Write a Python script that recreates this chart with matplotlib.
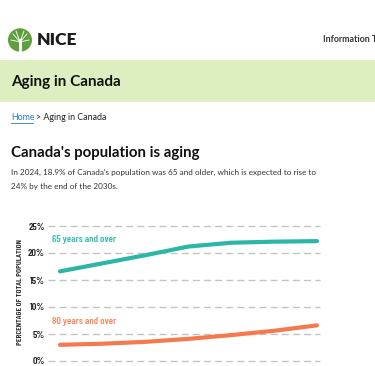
"""Aging in Canada - NICE web page chart."""

import matplotlib
matplotlib.use('Agg')
import matplotlib.pyplot as plt
from matplotlib.patches import Circle, Rectangle

# data
years = [2016, 2021, 2026, 2031, 2036, 2041, 2046]
pct_65_plus = [16.6, 18.1, 19.6, 21.2, 21.9, 22.1, 22.2]
pct_80_plus = [3.0, 3.2, 3.55, 4.1, 4.8, 5.6, 6.6]
y_ticks = [0, 5, 10, 15, 20, 25]
series_labels = ['65 years and over', '80 years and over']

W, H = 375, 366
TEAL = '#2cb6a8'
ORANGE = '#f47a4e'
COND = ['Barlow Condensed', 'DejaVu Sans']
PAGE = ['Lato', 'DejaVu Sans']


def fx(x):
    return x / W


def fy(y):
    return 1 - y / H


fig = plt.figure(figsize=(W / 100, H / 100), dpi=100)
fig.patch.set_facecolor('white')

# header / logo
logo = Circle((fx(20), fy(40)), 12 / W, transform=fig.transFigure,
              facecolor='#5d9f3c', edgecolor='none')
fig.patches.append(logo)
# crude white tree inside the logo
fig.add_artist(plt.Line2D([fx(20), fx(20)], [fy(52), fy(40)],
                          color='white', lw=2.2, transform=fig.transFigure))
for dx, dy in [(-7, -8), (7, -8), (-4, -11), (4, -11), (-9, -2), (9, -2)]:
    fig.add_artist(plt.Line2D([fx(20), fx(20 + dx)], [fy(42), fy(42 + dy)],
                              color='white', lw=0.7, alpha=0.9,
                              transform=fig.transFigure))
fig.text(fx(37), fy(40), 'NICE', fontsize=12.5, fontweight='heavy',
         family=PAGE, color='#1c1c1c', va='center', ha='left')
fig.text(fx(323), fy(40), 'Information Technology', fontsize=6.4,
         fontweight='bold', family=PAGE, color='#333333', va='center', ha='left')

# green title band
band = Rectangle((0, fy(102)), 1, (102 - 60) / H, transform=fig.transFigure,
                 facecolor='#ddeec1', edgecolor='none')
fig.patches.append(band)
fig.text(fx(11), fy(82), 'Aging in Canada', fontsize=11.0, family=PAGE,
         fontweight='bold', color='#111111', va='center', ha='left')

# breadcrumb
fig.text(fx(11), fy(118), 'Home', fontsize=6.4, family=PAGE,
         color='#2f78c4', va='center', ha='left')
fig.add_artist(plt.Line2D([fx(11), fx(33)], [fy(123), fy(123)],
                          color='#2f78c4', lw=0.6, transform=fig.transFigure))
fig.text(fx(36), fy(118), '> Aging in Canada', fontsize=6.4, family=PAGE,
         color='#222222', va='center', ha='left')

# heading + paragraph
fig.text(fx(11), fy(153), "Canada's population is aging", fontsize=10.8,
         fontweight='bold', family=PAGE, color='#111111', va='center', ha='left')
fig.text(fx(11), fy(172),
         "In 2024, 18.9% of Canada's population was 65 and older, which is expected to rise to",
         fontsize=5.9, family=PAGE, color='#333333', va='center', ha='left')
fig.text(fx(11), fy(187), "24% by the end of the 2030s.",
         fontsize=5.9, family=PAGE, color='#333333', va='center', ha='left')

# chart area
ax_left, ax_right, ax_top, ax_bottom = 48, 320, 226, 361
ax = fig.add_axes([fx(ax_left), fy(ax_bottom), (ax_right - ax_left) / W,
                   (ax_bottom - ax_top) / H])
ax.set_facecolor('none')
px_per_year = (317 - 60) / (years[-1] - years[0])
ax.set_xlim(years[0] - (60 - ax_left) / px_per_year,
            years[-1] + (ax_right - 317) / px_per_year)
ax.set_ylim(0, 25)

for t in y_ticks:
    ax.axhline(t, color='#c4c4c4', lw=1.0, dashes=(5, 3), zorder=1,
               clip_on=False)

ax.plot(years, pct_65_plus, color=TEAL, lw=3.0, solid_capstyle='round',
        zorder=3)
ax.plot(years, pct_80_plus, color=ORANGE, lw=3.0, solid_capstyle='round',
        zorder=3)

ax.set_yticks(y_ticks)
ax.set_yticklabels([f'{t}%' for t in y_ticks], family=COND,
                   fontweight='semibold', fontsize=7.4, color='#222222')
ax.tick_params(axis='y', length=0, pad=2.2)
ax.set_xticks([])
for s in ax.spines.values():
    s.set_visible(False)

fig.text(fx(52), fy(239), series_labels[0], fontsize=7.3, family=COND,
         fontweight='semibold', color='#3dbdb0', va='center', ha='left')
fig.text(fx(52), fy(322), series_labels[1], fontsize=7.3, family=COND,
         fontweight='semibold', color='#f58b66', va='center', ha='left')

fig.text(fx(20), fy(292), 'PERCENTAGE OF TOTAL POPULATION', rotation=90,
         fontsize=6.0, family=COND, fontweight='semibold', color='#222222',
         va='center', ha='center')

fig.savefig('out.png', dpi=100)
plt.close(fig)
